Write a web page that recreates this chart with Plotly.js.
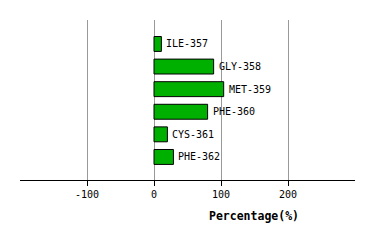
<!DOCTYPE html>
<html>
<head>
<meta charset="utf-8">
<script src="https://cdn.plot.ly/plotly-3.0.1.min.js"></script>
<style>html,body{margin:0;padding:0;background:#fff;}#chart{width:374px;height:240px;}</style>
</head>
<body>
<div id="chart"></div>
<script>
const residues = ["ILE-357", "GLY-358", "MET-359", "PHE-360", "CYS-361", "PHE-362"];
const percentages = [11, 89, 104, 80, 20, 29];
const tickValues = [-100, 0, 100, 200];
const tickLabels = ["-100", "0", "100", "200"];
const xTitle = "Percentage(%)";

const mono = "DejaVu Sans Mono, monospace";

const trace = {
  type: "bar",
  orientation: "h",
  y: residues,
  x: percentages,
  width: 0.66,
  marker: {color: "#00b000", line: {color: "#000", width: 1}},
  hoverinfo: "none"
};

const labelAnnotations = residues.map((r, i) => ({
  text: r, x: percentages[i], y: r, xref: "x", yref: "y",
  xanchor: "left", yanchor: "middle", xshift: 3, showarrow: false,
  font: {family: mono, size: 10, color: "#000"}
}));

const layout = {
  width: 374, height: 240,
  margin: {l: 20, r: 19, t: 20, b: 60},
  paper_bgcolor: "#fff", plot_bgcolor: "#fff",
  showlegend: false,
  xaxis: {
    range: [-200, 300],
    tickvals: tickValues, ticktext: tickLabels,
    showgrid: true, gridcolor: "#999", gridwidth: 1,
    zeroline: false,
    showline: true, linecolor: "#000", linewidth: 1,
    ticks: "outside", ticklen: 5, tickcolor: "#000",
    tickfont: {family: mono, size: 10, color: "#000"},
    fixedrange: true
  },
  yaxis: {
    type: "category",
    range: [6.02, -1.06],
    showticklabels: false, showgrid: false, zeroline: false, showline: false, ticks: "",
    fixedrange: true
  },
  annotations: labelAnnotations.concat([{
    text: "<b>" + xTitle + "</b>",
    xref: "paper", yref: "paper",
    x: 0.7, y: 0, yshift: -27,
    xanchor: "center", yanchor: "top",
    showarrow: false,
    font: {family: mono, size: 11.5, color: "#000"}
  }])
};

Plotly.newPlot("chart", [trace], layout, {displayModeBar: false, staticPlot: true});
</script>
</body>
</html>
